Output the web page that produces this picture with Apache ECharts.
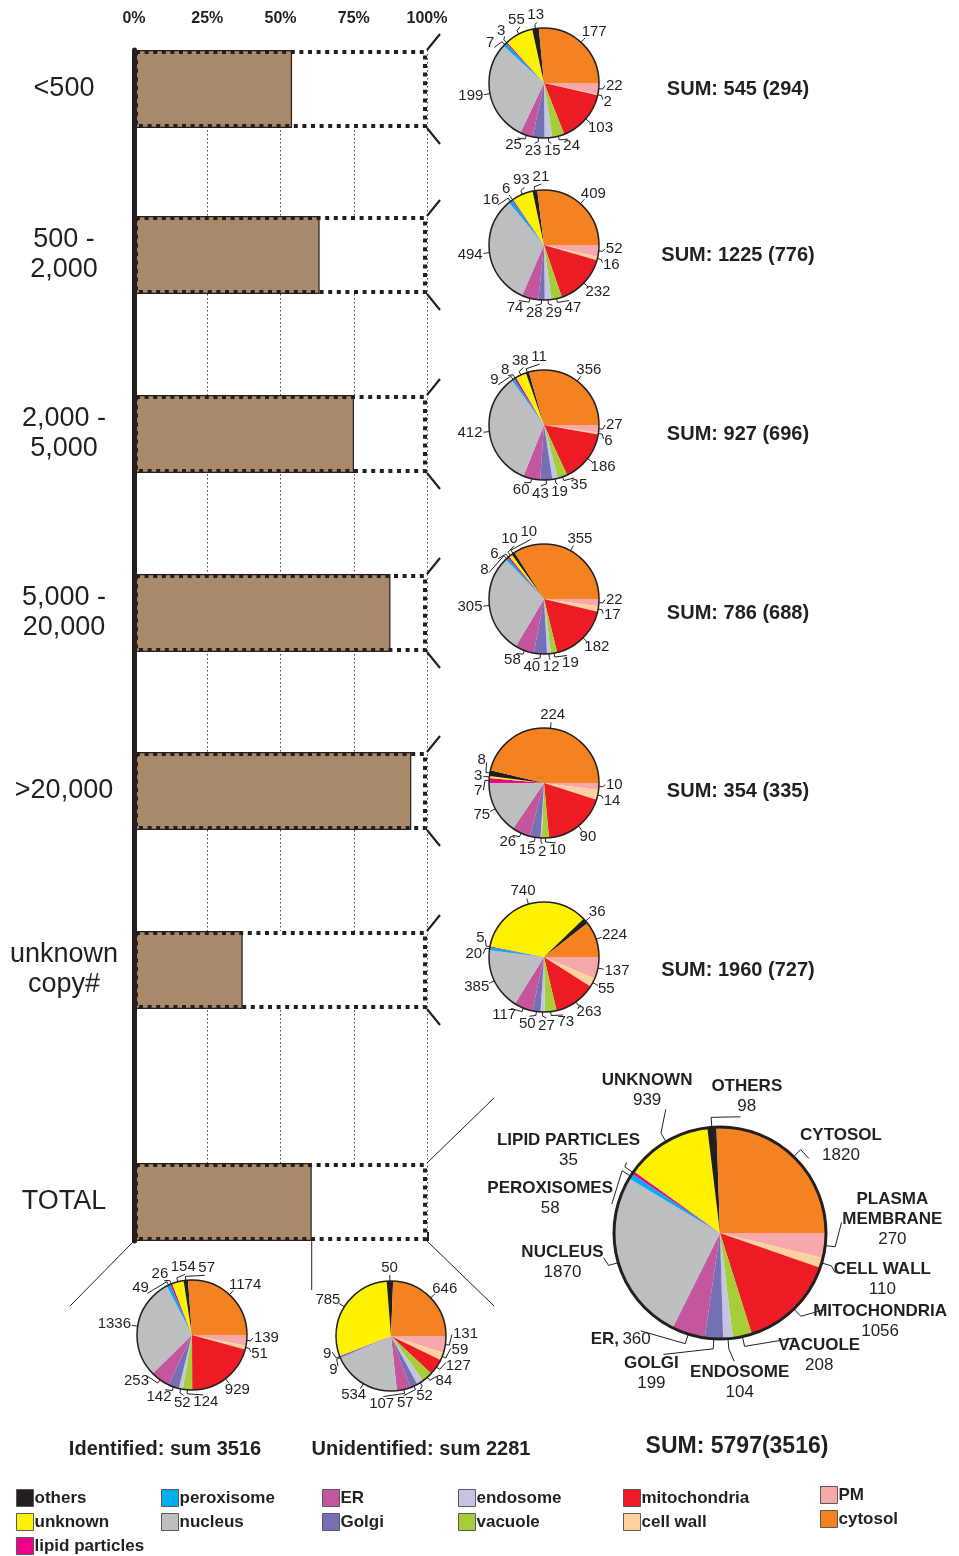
<!DOCTYPE html>
<html>
<head>
<meta charset="utf-8">
<script src="https://cdn.jsdelivr.net/npm/echarts@6/dist/echarts.min.js"></script>
<style>
  html, body { margin: 0; padding: 0; background: #fff; }
  #chart { width: 959px; height: 1556px; }
</style>
</head>
<body>
<div id="chart"></div>
<script>
// Copy-number classes (rows of the bar panel)
const ROW_LABELS = ['<500', '500 -\n2,000', '2,000 -\n5,000', '5,000 -\n20,000', '>20,000', 'unknown\ncopy#', 'TOTAL'];
const ROW_SUM = [545, 1225, 927, 786, 354, 1960, 5797];
const ROW_IDENTIFIED = [294, 776, 696, 688, 335, 727, 3516];
const UNIDENTIFIED_SUM = 2281;

// Localizations, in the clockwise order used by every pie (starting at 3 o'clock)
const LOCALIZATIONS = ['PM', 'cell wall', 'mitochondria', 'vacuole', 'endosome', 'Golgi', 'ER',
  'nucleus', 'peroxisome', 'lipid particles', 'unknown', 'others', 'cytosol'];

// Counts per localization for each pie
const PIE_LT500      = [22, 2, 103, 24, 15, 23, 25, 199, 7, 3, 55, 13, 177];
const PIE_500_2000   = [52, 16, 232, 47, 29, 28, 74, 494, 16, 6, 93, 21, 409];
const PIE_2000_5000  = [27, 6, 186, 35, 19, 43, 60, 412, 9, 8, 38, 11, 356];
const PIE_5000_20000 = [22, 17, 182, 19, 12, 40, 58, 305, 8, 6, 10, 10, 355];
const PIE_GT20000    = [10, 14, 90, 10, 2, 15, 26, 75, 0, 7, 3, 8, 224];
const PIE_UNKNOWN    = [137, 55, 263, 73, 27, 50, 117, 385, 20, 5, 740, 36, 224];
const PIE_IDENTIFIED = [139, 51, 929, 124, 52, 142, 253, 1336, 49, 26, 154, 57, 1174];
const PIE_UNIDENT    = [131, 59, 127, 84, 52, 57, 107, 534, 9, 9, 785, 50, 646];
const PIE_TOTAL      = [270, 110, 1056, 208, 104, 199, 360, 1870, 58, 35, 939, 98, 1820];

// Labels written around the large total pie
const TOTAL_LABELS = ['PLASMA\nMEMBRANE', 'CELL WALL', 'MITOCHONDRIA', 'VACUOLE', 'ENDOSOME', 'GOLGI', 'ER,',
  'NUCLEUS', 'PEROXISOMES', 'LIPID PARTICLES', 'UNKNOWN', 'OTHERS', 'CYTOSOL'];

const COLORS = {
  'PM': '#f6a8ab', 'cell wall': '#ffd19c', 'mitochondria': '#ed1c24', 'vacuole': '#a6ce39',
  'endosome': '#c7c3e3', 'Golgi': '#7470b4', 'ER': '#c4569e', 'nucleus': '#bcbec0',
  'peroxisome': '#00aeef', 'lipid particles': '#ec008c', 'unknown': '#fff200',
  'others': '#231f20', 'cytosol': '#f58220'
};

const LEGEND_COLUMNS = [
  ['others', 'unknown', 'lipid particles'],
  ['peroxisome', 'nucleus'],
  ['ER', 'Golgi'],
  ['endosome', 'vacuole'],
  ['mitochondria', 'cell wall'],
  ['PM', 'cytosol']
];

// ---- layout ----
const FONT = '"Liberation Sans", Arial, Helvetica, sans-serif';
const INK = '#231f20';
const BAR_LEFT = 134, BAR_W = 293, BAR_H = 78;
const ROW_TOPS = [50, 216, 395, 574, 752, 931, 1163];
const ROW_PIES = [
  { values: PIE_LT500, center: [544, 83] },
  { values: PIE_500_2000, center: [544, 245] },
  { values: PIE_2000_5000, center: [544, 425] },
  { values: PIE_5000_20000, center: [544, 599] },
  { values: PIE_GT20000, center: [544, 783] },
  { values: PIE_UNKNOWN, center: [544, 957] }
];
const LEGEND_LEFT = [16, 161, 322, 458, 623, 820];
const LEGEND_TOP = [1489, 1489, 1489, 1489, 1489, 1486];
// Label direction (degrees clockwise from 3 o'clock) and distance from the rim, large pie
const TOTAL_LABEL_PLACE = {
  'PM': [-5, 17], 'cell wall': [19, 17], 'mitochondria': [36, 25], 'vacuole': [54.5, 24],
  'endosome': [83.7, 24], 'Golgi': [115, 29], 'ER': [129, 21], 'nucleus': [168, 14],
  'peroxisome': [195, 7], 'lipid particles': [217, 12], 'unknown': [246.3, 30],
  'others': [280, 13], 'cytosol': [320, 11]
};

const chart = echarts.init(document.getElementById('chart'), null, { renderer: 'canvas' });

const grids = [{ left: BAR_LEFT, top: ROW_TOPS[0], width: BAR_W, height: ROW_TOPS[6] + BAR_H - ROW_TOPS[0] }];
const xAxes = [{
  gridIndex: 0, type: 'value', position: 'top', min: 0, max: 100, interval: 25, offset: 5,
  axisLine: { show: false },
  axisTick: { show: true, length: 9, lineStyle: { color: INK, width: 4 } },
  axisLabel: { formatter: '{value}%', fontFamily: FONT, fontWeight: 'bold', fontSize: 16, color: INK, margin: 18 },
  splitLine: { show: true, lineStyle: { color: '#444', width: 1, type: [1.5, 2.5] } },
  z: 0
}];
const yAxes = [{
  gridIndex: 0, type: 'value', min: 0, max: 1, offset: 2,
  axisLine: { show: true, lineStyle: { color: INK, width: 5 } },
  axisTick: { show: false }, axisLabel: { show: false }, splitLine: { show: false },
  z: 10
}];
const series = [];

ROW_LABELS.forEach((label, i) => {
  const g = i + 1;
  grids.push({ left: BAR_LEFT, top: ROW_TOPS[i], width: BAR_W, height: BAR_H });
  xAxes.push({ gridIndex: g, type: 'value', min: 0, max: 100, show: false });
  yAxes.push({
    gridIndex: g, type: 'category', data: [label],
    axisLine: { show: false }, axisTick: { show: false },
    axisLabel: { fontFamily: FONT, fontSize: 27, lineHeight: 30, color: INK, align: 'center', margin: 70 }
  });
  const pct = ROW_IDENTIFIED[i] / ROW_SUM[i] * 100;
  series.push({
    type: 'bar', xAxisIndex: g, yAxisIndex: g, data: [100], barWidth: '100%', barGap: '-100%',
    itemStyle: { color: '#fff' }, silent: true, z: 2
  });
  series.push({
    type: 'bar', xAxisIndex: g, yAxisIndex: g, data: [pct], barWidth: '100%', barGap: '-100%',
    itemStyle: { color: '#a88a6b', borderColor: INK, borderWidth: 1.2 }, silent: true, z: 3
  });
  series.push({
    type: 'bar', xAxisIndex: g, yAxisIndex: g, data: [100], barWidth: '100%', barGap: '-100%',
    itemStyle: { color: 'rgba(0,0,0,0)', borderColor: INK, borderWidth: 4, borderType: [4, 4.6] },
    silent: true, z: 4
  });
});

// ---- pie label placement: labels sit around the rim, nudged apart where they collide ----
const measureCtx = document.createElement('canvas').getContext('2d');
function textWidth(text, font) { measureCtx.font = font; return measureCtx.measureText(text).width; }

const LABEL_POS = {};   // seriesIndex -> [ {x, y, line} per data item ]

function placeLabels(seriesIndex, data, center, R, gap, sizes, opts) {
  const [cx, cy] = center;
  const total = data.reduce((a, d) => a + d.value, 0);
  let acc = 0;
  const items = data.map((d, k) => {
    const phi = (acc + d.value / 2) / total * Math.PI * 2;
    acc += d.value;
    const fixed = opts.place && opts.place[d.name];
    return fixed
      ? { phi, psi: fixed[0] * Math.PI / 180, w: sizes[k].w, h: sizes[k].h, gap: fixed[1] }
      : { phi, psi: phi, w: sizes[k].w, h: sizes[k].h, gap };
  });
  const rect = it => {
    const c = Math.cos(it.psi), s = Math.sin(it.psi);
    const x = cx + (R + it.gap) * c + it.w / 2 * c, y = cy + (R + it.gap) * s + it.h / 2 * s;
    return { x, y, x0: x - it.w / 2, x1: x + it.w / 2, y0: y - it.h / 2, y1: y + it.h / 2 };
  };
  const pad = opts.pad || 0.5;
  for (let t = 0; t < (opts.place ? 0 : 2000); t++) {
    let moved = false;
    for (let i = 0; i < items.length; i++) {
      for (let j = i + 1; j < items.length; j++) {
        const a = rect(items[i]), b = rect(items[j]);
        if (a.x0 < b.x1 + pad && b.x0 < a.x1 + pad && a.y0 < b.y1 + pad && b.y0 < a.y1 + pad) {
          let d = items[j].psi - items[i].psi;
          while (d > Math.PI) d -= 2 * Math.PI;
          while (d <= -Math.PI) d += 2 * Math.PI;
          const sgn = d >= 0 ? 1 : -1;
          items[i].psi -= sgn * 0.003;
          items[j].psi += sgn * 0.003;
          moved = true;
        }
      }
    }
    if (!moved) break;
  }
  LABEL_POS[seriesIndex] = items.map(it => {
    const r = rect(it);
    const pt = (ang, rad) => [cx + rad * Math.cos(ang), cy + rad * Math.sin(ang)];
    return {
      x: r.x, y: r.y,
      line: [pt(it.phi, R), pt(it.phi, R + opts.tick), pt(it.psi, R + it.gap - 1)]
    };
  });
}

function pieLabelLayout(params) {
  const L = LABEL_POS[params.seriesIndex] && LABEL_POS[params.seriesIndex][params.dataIndex];
  if (!L) return {};
  return { x: L.x, y: L.y, align: 'center', verticalAlign: 'middle', labelLinePoints: L.line };
}

function pieData(values) {
  return LOCALIZATIONS.map((name, k) => ({ name, value: values[k], itemStyle: { color: COLORS[name] } }))
    .filter(d => d.value > 0);
}

function outline(center, radius, width) {
  series.push({
    type: 'pie', center, radius, silent: true, startAngle: 90,
    data: [{ value: 1, itemStyle: { color: 'rgba(0,0,0,0)', borderColor: INK, borderWidth: width } }],
    label: { show: false }, labelLine: { show: false }, z: 6
  });
}

const SMALL_FONT = '15px ' + FONT;
function smallPie(values, center, radius) {
  const data = pieData(values);
  placeLabels(series.length, data, center, radius, 7,
    data.map(d => ({ w: textWidth(String(d.value), SMALL_FONT), h: 13 })), { tick: 4, pad: 2.5 });
  series.push({
    type: 'pie', center, radius, startAngle: 0, clockwise: true, silent: true,
    data, avoidLabelOverlap: false,
    itemStyle: { borderWidth: 0 },
    label: { show: true, position: 'outside', formatter: '{c}', fontFamily: FONT, fontSize: 15, color: INK },
    labelLine: { show: true, length: 4, length2: 3, lineStyle: { color: INK, width: 1 } },
    labelLayout: pieLabelLayout,
    minShowLabelAngle: 0, z: 5
  });
  outline(center, radius, 1.5);
}

ROW_PIES.forEach(p => smallPie(p.values, p.center, 55));
smallPie(PIE_IDENTIFIED, [192, 1335], 55);
smallPie(PIE_UNIDENT, [391, 1336], 55);

// Large total pie with named labels
const NAME_FONT = 'bold 17px ' + FONT, VAL_FONT = '17px ' + FONT;
const totalData = pieData(PIE_TOTAL);
const totalSizes = totalData.map(d => {
  const lab = TOTAL_LABELS[LOCALIZATIONS.indexOf(d.name)];
  if (lab === 'ER,') return { w: textWidth('ER, ', NAME_FONT) + textWidth(String(d.value), VAL_FONT), h: 20 };
  const lines = lab.split('\n');
  const w = Math.max(...lines.map(s => textWidth(s, NAME_FONT)), textWidth(String(d.value), VAL_FONT));
  return { w, h: (lines.length + 1) * 20 };
});
placeLabels(series.length, totalData, [720, 1233], 106, 16, totalSizes, {
  tick: 10, pad: 0, place: TOTAL_LABEL_PLACE
});
series.push({
  type: 'pie', center: [720, 1233], radius: 106, startAngle: 0, clockwise: true, silent: true,
  data: totalData, avoidLabelOverlap: false,
  label: {
    show: true, position: 'outside', fontFamily: FONT, color: INK, overflow: 'none',
    formatter: p => {
      const lab = TOTAL_LABELS[LOCALIZATIONS.indexOf(p.name)];
      if (lab === 'ER,') return '{n|ER,} {v|' + p.value + '}';
      return lab.split('\n').map(s => '{n|' + s + '}').join('\n') + '\n{v|' + p.value + '}';
    },
    rich: {
      n: { fontFamily: FONT, fontWeight: 'bold', fontSize: 17, color: INK, align: 'center', lineHeight: 20 },
      v: { fontFamily: FONT, fontSize: 17, color: INK, align: 'center', lineHeight: 20 }
    }
  },
  labelLine: { show: true, length: 10, length2: 10, lineStyle: { color: INK, width: 1 } },
  labelLayout: pieLabelLayout,
  minShowLabelAngle: 0, z: 5
});
outline([720, 1233], 106, 3);

const legends = LEGEND_COLUMNS.map((names, c) => ({
  data: names, orient: 'vertical', left: LEGEND_LEFT[c], top: LEGEND_TOP[c], height: 80,
  icon: 'rect', itemWidth: 17, itemHeight: 17, itemGap: 6, selectedMode: false, padding: 0,
  itemStyle: { borderColor: '#58595b', borderWidth: 1 },
  textStyle: { fontFamily: FONT, fontWeight: 'bold', fontSize: 17, lineHeight: 17, color: INK, padding: [0, 0, 0, -4] }
}));

chart.setOption({
  animation: false,
  backgroundColor: '#fff',
  grid: grids, xAxis: xAxes, yAxis: yAxes, series, legend: legends
});

// Connector lines, sum captions
const graphics = [];
const X100 = BAR_LEFT + BAR_W;
ROW_TOPS.slice(0, 6).forEach((top, i) => {
  graphics.push({ type: 'line', shape: { x1: X100, y1: top, x2: X100 + 13, y2: top - 16 }, style: { stroke: INK, lineWidth: 2.2 } });
  graphics.push({ type: 'line', shape: { x1: X100, y1: top + BAR_H, x2: X100 + 13, y2: top + BAR_H + 16 }, style: { stroke: INK, lineWidth: 2.2 } });
  graphics.push({
    type: 'text', x: 738, y: top + BAR_H / 2, style: {
      text: 'SUM: ' + ROW_SUM[i] + ' (' + ROW_IDENTIFIED[i] + ')', font: 'bold 20px ' + FONT,
      fill: INK, align: 'center', verticalAlign: 'middle'
    }
  });
});
const tTop = ROW_TOPS[6], tBot = ROW_TOPS[6] + BAR_H;
const xSplit = chart.convertToPixel({ xAxisIndex: 7 }, ROW_IDENTIFIED[6] / ROW_SUM[6] * 100);
graphics.push({ type: 'line', shape: { x1: X100, y1: tTop, x2: 494, y2: 1098 }, style: { stroke: INK, lineWidth: 1 } });
graphics.push({ type: 'line', shape: { x1: X100, y1: tBot, x2: 494, y2: 1306 }, style: { stroke: INK, lineWidth: 1 } });
graphics.push({ type: 'line', shape: { x1: BAR_LEFT, y1: tBot, x2: 70, y2: 1306 }, style: { stroke: INK, lineWidth: 1 } });
graphics.push({ type: 'line', shape: { x1: xSplit, y1: tBot, x2: xSplit, y2: 1290 }, style: { stroke: INK, lineWidth: 1 } });
graphics.push({ type: 'text', x: 165, y: 1449, style: { text: 'Identified: sum ' + ROW_IDENTIFIED[6], font: 'bold 20px ' + FONT, fill: INK, align: 'center', verticalAlign: 'middle' } });
graphics.push({ type: 'text', x: 421, y: 1449, style: { text: 'Unidentified: sum ' + UNIDENTIFIED_SUM, font: 'bold 20px ' + FONT, fill: INK, align: 'center', verticalAlign: 'middle' } });
graphics.push({ type: 'text', x: 737, y: 1447, style: { text: 'SUM: ' + ROW_SUM[6] + '(' + ROW_IDENTIFIED[6] + ')', font: 'bold 23px ' + FONT, fill: INK, align: 'center', verticalAlign: 'middle' } });

chart.setOption({ graphic: graphics });
</script>
</body>
</html>
